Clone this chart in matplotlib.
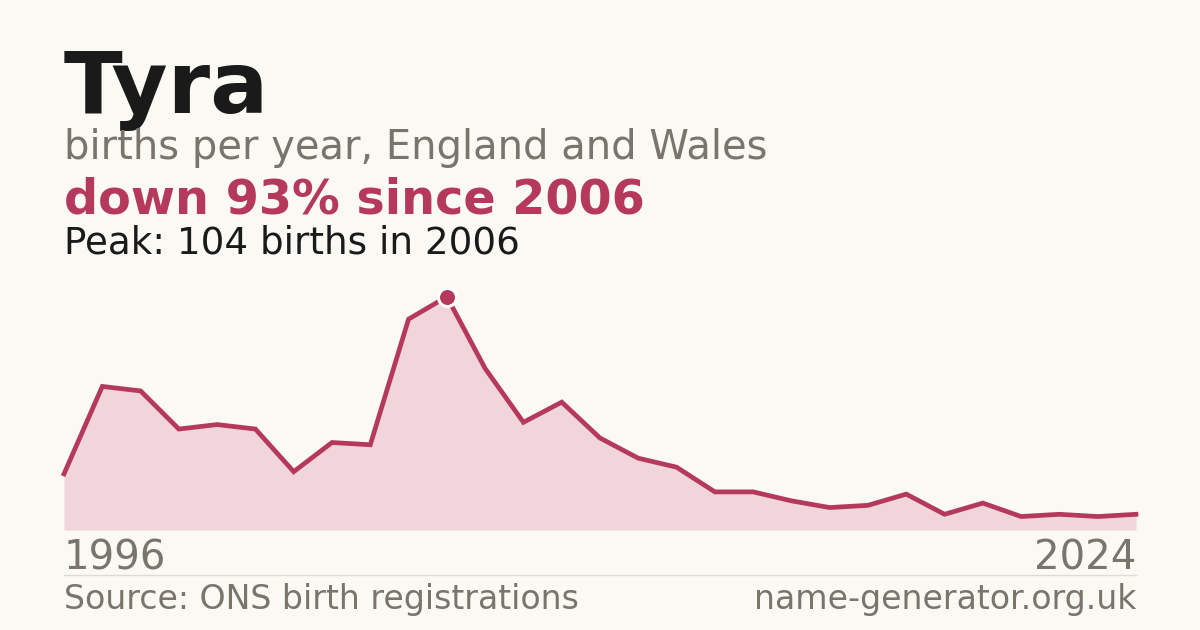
import matplotlib
matplotlib.use("Agg")
import matplotlib.pyplot as plt

years = list(range(1996, 2025))
births = [25, 64, 62, 45, 47, 45, 26, 39, 38, 94, 104, 72, 48, 57, 41, 32, 28, 17, 17, 13, 10, 11, 16, 7, 12, 6, 7, 6, 7]

name = "Tyra"
subtitle = "births per year, England and Wales"
headline = "down 93% since 2006"
peak_text = "Peak: 104 births in 2006"
source = "Source: ONS birth registrations"
site = "name-generator.org.uk"

BG = "#faf9f4"
RED = "#b5395a"
FILL = "#f0d5da"
GREY = "#79746c"
DARK = "#1a1a1a"

W, H = 1200, 630
fig = plt.figure(figsize=(12, 6.3), dpi=100, facecolor=BG)
plt.rcParams['font.family'] = ['DejaVu Sans']

def fy(px):
    return 1 - px / H

def fx(px):
    return px / W

left, right, bottom, top = 64, 1136, 530, 296.7
ax = fig.add_axes([fx(left), fy(bottom), fx(right) - fx(left), (bottom - top) / H])
ax.set_facecolor("none")
ax.set_xlim(years[0], years[-1])
ax.set_ylim(0, max(births))
ax.fill_between(years, births, 0, color=FILL, lw=0)
ax.plot(years, births, color=RED, lw=3.4, solid_joinstyle="miter", clip_on=False)
pi = births.index(max(births))
ax.plot([years[pi]], [births[pi]], "o", ms=13, color=RED, mec="white", mew=2.2, clip_on=False, zorder=5)
ax.axis("off")

fig.text(fx(64), fy(113), name, fontsize=62, fontweight="bold", color=DARK, va="baseline", ha="left")
fig.text(fx(64), fy(159.5), subtitle, fontsize=28.8, color=GREY, va="baseline", ha="left")
fig.text(fx(64), fy(214), headline, fontsize=34.4, fontweight="bold", color=RED, va="baseline", ha="left")
fig.text(fx(64), fy(253), peak_text, fontsize=26.8, color=DARK, va="baseline", ha="left")

fig.text(fx(64), fy(570), str(years[0]), fontsize=29, color=GREY, va="baseline", ha="left")
fig.text(fx(1136), fy(570), str(years[-1]), fontsize=29, color=GREY, va="baseline", ha="right")

fig.add_artist(plt.Line2D([fx(64), fx(1136)], [fy(574.5), fy(574.5)], color="#dedbd3", lw=1))

fig.text(fx(64), fy(609), source, fontsize=23.9, color=GREY, va="baseline", ha="left")
fig.text(fx(1136), fy(609), site, fontsize=23.9, color=GREY, va="baseline", ha="right")

fig.savefig("out.png", dpi=100, facecolor=BG)
